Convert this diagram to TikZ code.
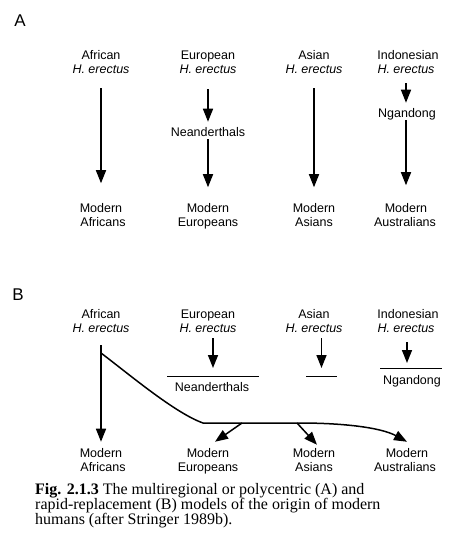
\documentclass[tikz,border=0pt]{standalone}
\usepackage{fontspec}
\setmainfont{Liberation Serif}
\newfontfamily\labfont{Liberation Sans}
\usetikzlibrary{arrows.meta}
\begin{document}
\begin{tikzpicture}[x=1pt,y=-1pt,
  lbl/.style={font=\labfont\fontsize{12.5}{14}\selectfont, inner sep=0pt, anchor=base},
  panel/.style={font=\labfont\fontsize{17}{17}\selectfont, inner sep=0pt},
  captext/.style={font=\fontsize{16}{15}\selectfont, inner sep=0pt, anchor=base west},
  arr/.style={draw, line width=1.5pt, -{Triangle[length=13pt,width=10pt]}},
  bar/.style={draw, line width=1pt}]
\useasboundingbox[fill=white] (0,0) rectangle (472,549);

% ---------- Panel A ----------
\node[panel] (lA) at (20,21) {A};
\node[lbl] (a1t) at (101,59) {African};
\node[lbl] (a1b) at (101,73) {\textit{H. erectus}};
\node[lbl] (a2t) at (208,59) {European};
\node[lbl] (a2b) at (208,73) {\textit{H. erectus}};
\node[lbl] (a3t) at (314,59) {Asian};
\node[lbl] (a3b) at (314,73) {\textit{H. erectus}};
\node[lbl] (a4t) at (408,59) {Indonesian};
\node[lbl] (a4b) at (406,73) {\textit{H. erectus}};
\node[lbl] (nA) at (208,136) {Neanderthals};
\node[lbl] (gA) at (407,117) {Ngandong};
\node[lbl] (m1t) at (101,212.5) {Modern};
\node[lbl] (m1b) at (103,226.5) {Africans};
\node[lbl] (m2t) at (208,212.5) {Modern};
\node[lbl] (m2b) at (208,226.5) {Europeans};
\node[lbl] (m3t) at (314,212.5) {Modern};
\node[lbl] (m3b) at (314,226.5) {Asians};
\node[lbl] (m4t) at (406,212.5) {Modern};
\node[lbl] (m4b) at (405,226.5) {Australians};

\draw[arr, shorten <=15pt, shorten >=20pt] (a1b.south) -- (a1b.south |- m1t.north);
\draw[arr, shorten <=16pt, shorten >=5pt] (a2b.south) -- (a2b.south |- nA.north);
\draw[arr, shorten <=3pt, shorten >=16pt] (nA.south) -- (nA.south |- m2t.north);
\draw[arr, shorten <=15pt, shorten >=16pt] (a3b.south) -- (a3b.south |- m3t.north);
\draw[arr, shorten <=10pt, shorten >=5pt] (a4b.south) -- (a4b.south |- gA.north);
\draw[arr, shorten <=0.5pt, shorten >=18pt] (a4b.south |- gA.south) -- (m4t.north);

% ---------- Panel B ----------
\node[panel] (lB) at (18,295) {B};
\node[lbl] (b1t) at (101,318) {African};
\node[lbl] (b1b) at (101,332) {\textit{H. erectus}};
\node[lbl] (b2t) at (208,318) {European};
\node[lbl] (b2b) at (208,332) {\textit{H. erectus}};
\node[lbl] (b3t) at (314,318) {Asian};
\node[lbl] (b3b) at (314,332) {\textit{H. erectus}};
\node[lbl] (b4t) at (408,318) {Indonesian};
\node[lbl] (b4b) at (406,332) {\textit{H. erectus}};
\node[lbl] (nB) at (212,391) {Neanderthals};
\node[lbl] (gB) at (412,384) {Ngandong};
\node[lbl] (n1t) at (101,457) {Modern};
\node[lbl] (n1b) at (103,471) {Africans};
\node[lbl] (n2t) at (208,457) {Modern};
\node[lbl] (n2b) at (208,471) {Europeans};
\node[lbl] (n3t) at (314,457) {Modern};
\node[lbl] (n3b) at (314,471) {Asians};
\node[lbl] (n4t) at (407,457) {Modern};
\node[lbl] (n4b) at (405,471) {Australians};

\coordinate (barE) at (213,376);
\coordinate (barA) at (321.5,376);
\coordinate (barI) at (407,368);
\draw[bar] ([xshift=-46pt]barE) -- ([xshift=46pt]barE);
\draw[bar] ([xshift=-15.5pt]barA) -- ([xshift=15.5pt]barA);
\draw[bar] ([xshift=-27pt]barI) -- ([xshift=35pt]barI);

\draw[arr, shorten <=6pt, shorten >=8pt] (barE |- b2b.south) -- (barE);
\draw[arr, shorten <=6pt, shorten >=8pt] (barA |- b3b.south) -- (barA);
\draw[arr, shorten <=10pt, shorten >=5pt] (barI |- b4b.south) -- (barI);

\draw[arr, shorten <=13pt, shorten >=6pt] (b1b.south) -- (b1b.south |- n1t.north);
\coordinate (split) at (101,353);
\coordinate (brE) at (242,423);
\coordinate (brA) at (297,423);
\draw[arr] (split) .. controls (130,375) and (175,413) .. (203,423)
  -- (300,423) .. controls (340,423) and (380,427) .. ([yshift=6pt]n4t.north);
\draw[arr] (brE) -- ([xshift=7pt,yshift=6pt]n2t.north);
\draw[arr] (brA) -- ([xshift=3pt,yshift=3pt]n3t.north);

% ---------- Caption ----------
\node[captext] (c1) at (35,494) {\textbf{Fig. 2.1.3} The multiregional or polycentric (A) and};
\node[captext] (c2) at (35,509) {rapid-replacement (B) models of the origin of modern};
\node[captext] (c3) at (35,524) {humans (after Stringer 1989b).};
\end{tikzpicture}
\end{document}
